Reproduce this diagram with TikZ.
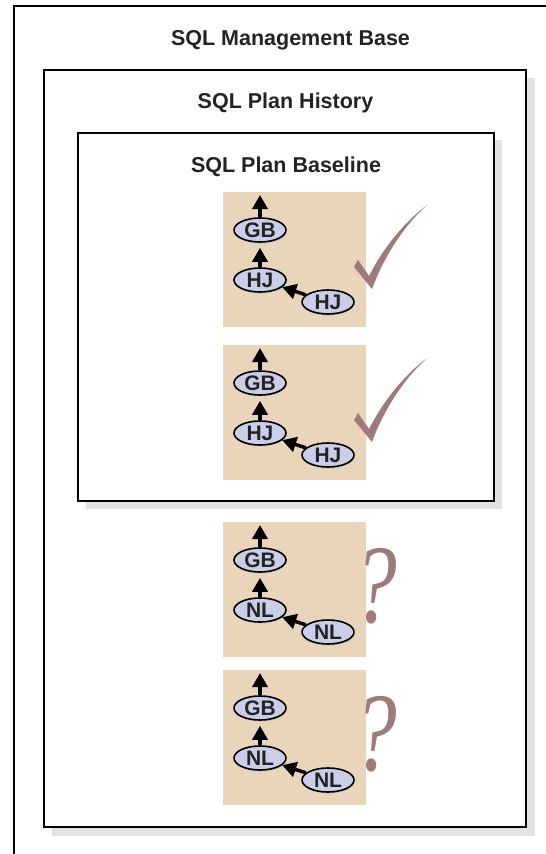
\documentclass[tikz,border=0pt]{standalone}
\usepackage{fontspec}
\setmainfont{Liberation Sans}
\newfontfamily\qfont{Liberation Serif}
\usetikzlibrary{arrows.meta,shapes.geometric,shadows}
\definecolor{plantan}{RGB}{232,213,186}
\definecolor{lav}{RGB}{202,206,233}
\definecolor{mauve}{RGB}{158,122,122}
\definecolor{shade}{RGB}{226,226,226}
\definecolor{ink}{RGB}{35,35,35}
\tikzset{
  title/.style={font=\bfseries\fontsize{21.5}{24}\selectfont, text=ink, inner sep=0pt},
  op/.style={ellipse, draw=black, line width=1.6pt, fill=lav, minimum width=52pt,
    minimum height=24pt, inner sep=0pt, font=\bfseries\fontsize{21}{22}\selectfont, text=ink,
    drop shadow={shadow xshift=0.5pt, shadow yshift=-1.5pt, fill=black!35}},
  flow/.style={line width=3.5pt, -{Triangle[width=15pt,length=14pt]}},
  planbg/.style={fill=plantan},
  frame/.style={draw=black, line width=2.5pt, fill=white},
  shadowbox/.style={fill=shade},
  tickmark/.style={fill=mauve},
  qmark/.style={text=mauve, font=\qfont\itshape\fontsize{112}{112}\selectfont, inner sep=0pt, anchor=base, xscale=0.78},
}
\newcommand\drawplan[3]{%
  \fill[planbg] (223,#1) rectangle (366,#1+135);
  \node[op] (#2g) at (260,#1+38) {GB};
  \node[op] (#2a) at (260,#1+88) {#3};
  \node[op] (#2b) at (328,#1+110) {#3};
  \coordinate (#2t) at (260,#1+3);
  \draw[flow] (#2g) -- (#2t);
  \draw[flow, shorten >=5pt] (#2a) -- (#2g);
  \draw[flow] (#2b) -- (#2a);
}
\newcommand\drawcheck[1]{%
  \fill[tickmark] (354,#1+75) -- (358,#1+68) -- (369,#1+84)
    .. controls (385,#1+53) and (405,#1+30) .. (427,#1+13)
    .. controls (405,#1+33) and (385,#1+62) .. (372,#1+97) -- cycle;
}
\begin{document}
\begin{tikzpicture}[x=1pt,y=-1pt]
  \useasboundingbox (0,0) rectangle (546,854);
  \clip (0,0) rectangle (546,854);
  % outer management base
  \draw[frame] (14,6) rectangle (600,900);
  \node[title] (smb) at (290.5,40) {SQL Management Base};
  % plan history
  \fill[shadowbox] (52,78) rectangle (535,836);
  \draw[frame] (44,70) rectangle (526,827);
  \node[title] (sph) at (285.5,103) {SQL Plan History};
  % plan baseline
  \fill[shadowbox] (86,140) rectangle (502,509);
  \draw[frame, line width=2pt] (78,133) rectangle (494,501);
  \node[title] (spb) at (286,167) {SQL Plan Baseline};
  % plans
  \drawplan{192}{p1}{HJ}
  \drawplan{345}{p2}{HJ}
  \drawplan{522}{p3}{NL}
  \drawplan{670}{p4}{NL}
  \drawcheck{192}
  \drawcheck{345}
  \node[qmark] (q1) at (375,622) {?};
  \node[qmark] (q2) at (375,770) {?};
\end{tikzpicture}
\end{document}
